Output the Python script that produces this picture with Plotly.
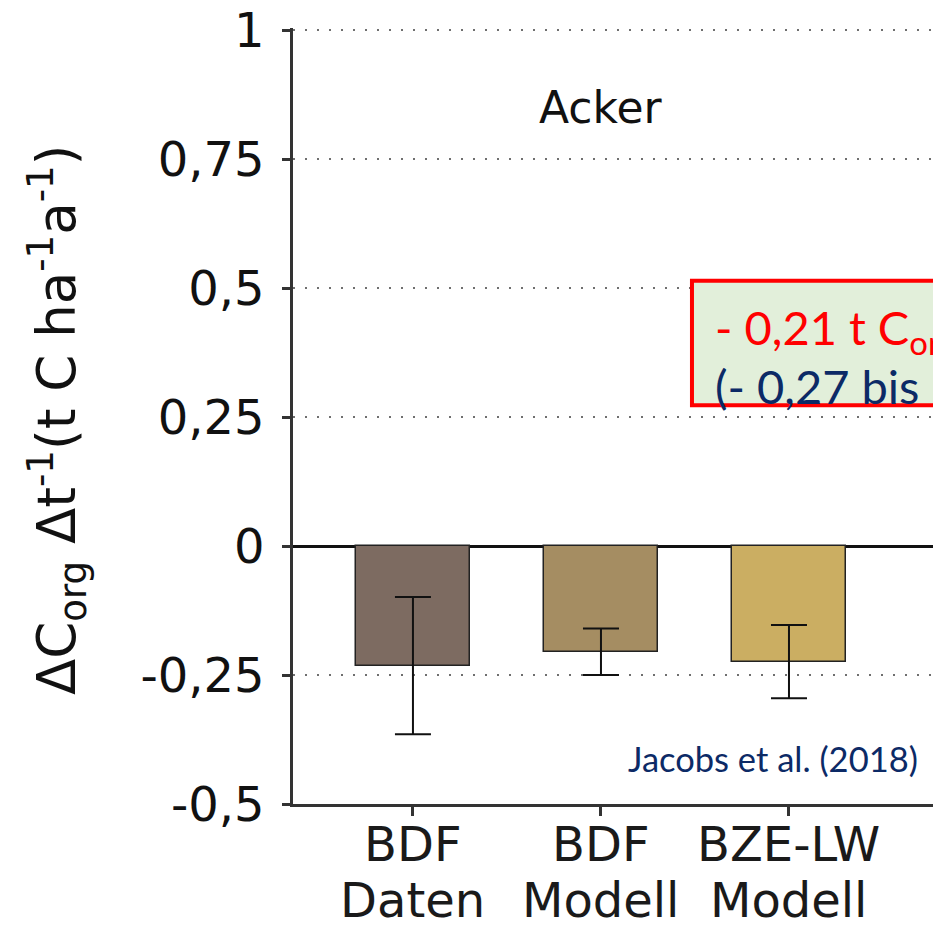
import plotly.graph_objects as go

# ---- data ----
categories = ["BDF Daten", "BDF Modell", "BZE-LW Modell"]
label_line1 = ["BDF", "BDF", "BZE-LW"]
label_line2 = ["Daten", "Modell", "Modell"]
values = [-0.232, -0.205, -0.224]
errors = [0.133, 0.045, 0.071]
bar_colors = ["#7d6b61", "#a58d62", "#cbae62"]
ytick_vals = [-0.5, -0.25, 0, 0.25, 0.5, 0.75, 1]
ytick_text = ["-0,5", "-0,25", "0", "0,25", "0,5", "0,75", "1"]
panel_title = "Acker"
box_line1 = "- 0,21 t C<sub>org</sub> ha<sup>-1</sup> a<sup>-1</sup>"
box_line2 = "(- 0,27 bis - 0,15)"
source = "Jacobs et al. (2018)"

xpos = list(range(len(categories)))

fig = go.Figure()
fig.add_trace(go.Bar(
    x=xpos, y=values, width=0.606,
    marker=dict(color=bar_colors, line=dict(color="#222222", width=1.5)),
    error_y=dict(type="data", array=errors, color="#111111", thickness=2, width=18),
    hoverinfo="skip", showlegend=False,
))

dej = "DejaVu Sans"
# plot area: x from 293 to 933 px, y from 28 to 804 px (1.004 .. -0.5)
fig.update_layout(
    width=933, height=929,
    margin=dict(l=293, r=0, t=28, b=125),
    paper_bgcolor="white", plot_bgcolor="white",
    font=dict(family=dej, color="#111111"),
    bargap=0,
    xaxis=dict(
        range=[-0.638, 2.766], tickvals=xpos, ticktext=["", "", ""],
        showgrid=False, zeroline=False, showline=True, linecolor="#333333", linewidth=2.5,
        ticks="outside", ticklen=9, tickwidth=2.5, tickcolor="#333333",
    ),
    yaxis=dict(
        range=[-0.5, 1.004], tickvals=ytick_vals, ticktext=ytick_text,
        tickfont=dict(family=dej, size=48, color="#111111"),
        showgrid=True, gridcolor="#6f6f6f", gridwidth=2, griddash="2px,10px",
        zeroline=True, zerolinecolor="#111111", zerolinewidth=3,
        showline=True, linecolor="#333333", linewidth=2.5,
        ticks="outside", ticklen=8, tickwidth=2.5, tickcolor="#333333",
        ticklabelstandoff=8,
    ),
)

annotations = []
for i in xpos:
    annotations.append(dict(x=i, y=-0.052, xref="x", yref="paper", text=label_line1[i],
                            showarrow=False, font=dict(family=dej, size=48, color="#1a1a1a"),
                            xanchor="center", yanchor="middle"))
    annotations.append(dict(x=i, y=-0.124, xref="x", yref="paper", text=label_line2[i],
                            showarrow=False, font=dict(family=dej, size=48, color="#1a1a1a"),
                            xanchor="center", yanchor="middle"))

plot_h = 929 - 28 - 125
# y axis title
annotations.append(dict(
    x=(57 - 293) / 640, y=(929 - 125 - 420) / plot_h, xref="paper", yref="paper",
    text="ΔC<sub>org</sub> Δt<sup>-1</sup>(t C ha<sup>-1</sup>a<sup>-1</sup>)",
    showarrow=False, textangle=-90, font=dict(family=dej, size=53, color="#111111"),
    xanchor="center", yanchor="middle",
))

annotations.append(dict(x=1.0, y=0.849, xref="x", yref="y", text=panel_title, showarrow=False,
                        font=dict(family=dej, size=44, color="#111111"), xanchor="center", yanchor="middle"))

annotations.append(dict(x=1.596, y=0.424, xref="x", yref="y", text=box_line1, showarrow=False,
                        font=dict(family="Lato", size=47, color="#ff0000"), xanchor="left", yanchor="middle"))
annotations.append(dict(x=1.596, y=0.310, xref="x", yref="y", text=box_line2, showarrow=False,
                        font=dict(family="Lato", size=47, color="#0c2a66"), xanchor="left", yanchor="middle"))
annotations.append(dict(x=2.697, y=-0.411, xref="x", yref="y", text=source, showarrow=False,
                        font=dict(family="Lato", size=34.5, color="#0c2a66"), xanchor="right", yanchor="middle"))

fig.update_layout(annotations=annotations)

fig.add_shape(type="rect", xref="x", yref="y", x0=1.484, x1=3.6, y0=0.273, y1=0.514,
              fillcolor="#e2efda", line=dict(color="#ff0000", width=4), layer="above")

fig.write_html("out.html")
